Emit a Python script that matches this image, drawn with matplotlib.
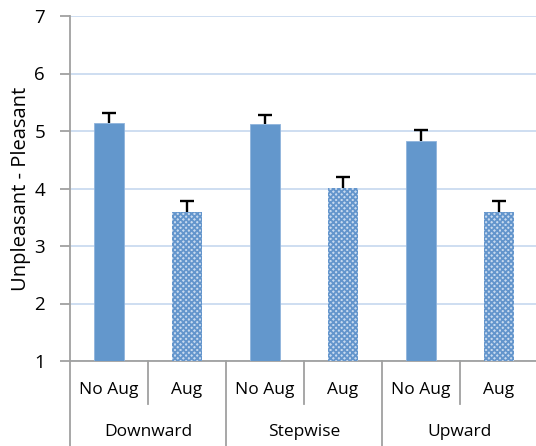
import matplotlib
matplotlib.use("Agg")
import matplotlib.pyplot as plt
import matplotlib.transforms as mtrans
from matplotlib.lines import Line2D
import numpy as np

plt.rcParams['font.family'] = ['Open Sans', 'DejaVu Sans']
plt.rcParams['hatch.linewidth'] = 1.3

groups = ["Downward", "Stepwise", "Upward"]
conditions = ["No Aug", "Aug"]
values = [5.14, 3.59, 5.12, 4.01, 4.83, 3.59]
errors = [0.17, 0.20, 0.16, 0.19, 0.18, 0.20]
y_ticks = [1, 2, 3, 4, 5, 6, 7]

fig = plt.figure(figsize=(5.36, 4.46), dpi=100)
ax = fig.add_axes([70/536, 1-361/446, 468/536, 345/446])

n = len(values)
x = np.arange(n)
blue = '#6397cc'
cap = 0.09
for i in range(n):
    v = values[i]
    if i % 2 == 0:
        ax.bar(x[i], v - 1, bottom=1, width=0.39, color=blue, edgecolor='#8fb4dc', linewidth=0.6, zorder=3)
    else:
        ax.bar(x[i], v - 1, bottom=1, width=0.39, facecolor='#c8daef', edgecolor='#6395cc', hatch='xxxxxx', linewidth=0, zorder=3)
    ax.vlines(x[i], v, v + errors[i], color='black', linewidth=1.7, zorder=4)
    ax.hlines(v + errors[i], x[i] - cap, x[i] + cap, color='black', linewidth=1.7, zorder=4)

ax.set_xlim(-0.5, n - 0.5)
ax.set_ylim(1, 7)
ax.set_yticks(y_ticks)
ax.set_yticklabels([str(t) for t in y_ticks], fontsize=13.5)
ax.yaxis.grid(True, color='#c6d8ef', linewidth=1.2, zorder=0)
ax.set_axisbelow(True)
ax.set_xticks([])
for s in ['top', 'right']:
    ax.spines[s].set_visible(False)
for s in ['left', 'bottom']:
    ax.spines[s].set_color('#a0a0a0')
    ax.spines[s].set_linewidth(1.3)
ax.tick_params(axis='y', length=7, width=1.3, color='#a0a0a0', pad=11)
ax.set_ylabel("Unpleasant - Pleasant", fontsize=14.5, labelpad=2)

trans = mtrans.blended_transform_factory(ax.transData, fig.transFigure)
y_cond = 1 - 390/446
y_grp = 1 - 432/446
for i in range(n):
    ax.text(x[i], y_cond, conditions[i % 2], transform=trans, ha='center', va='center', fontsize=12.5)
for g, name in enumerate(groups):
    ax.text(2*g + 0.5, y_grp, name, transform=trans, ha='center', va='center', fontsize=12.5)

y_axis = 1 - 361/446
y_inner = 1 - 404/446
for b in range(0, n + 1):
    xb = b - 0.5
    if b % 2 == 1:
        y_end = y_inner
    else:
        y_end = 0
    fig.add_artist(Line2D([xb, xb], [y_axis, y_end], transform=trans, color='#a0a0a0', linewidth=1.3, clip_on=False))

fig.savefig("out.png", dpi=100)
